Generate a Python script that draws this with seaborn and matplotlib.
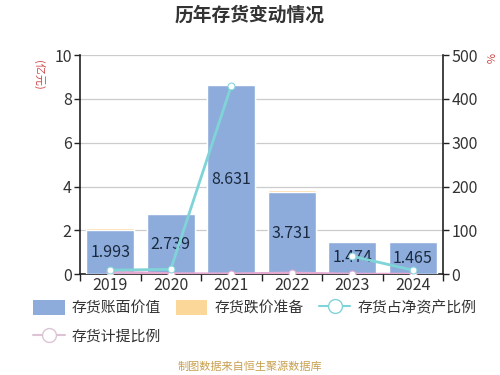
import numpy as np
import pandas as pd
import seaborn as sns
import matplotlib.pyplot as plt
from matplotlib.lines import Line2D
from matplotlib.patches import Patch

# data
years = ['2019', '2020', '2021', '2022', '2023', '2024']
book_value = [1.993, 2.739, 8.631, 3.731, 1.474, 1.465]      # 亿元
reserve = [0.10, 0.03, 0.05, 0.10, 0.0, 0.0]                 # 亿元
ratio_net_assets = [9, 11, 430, np.nan, 41, 9]               # %
ratio_provision = [4.8, 1.1, 0.6, 2.6, 0.0, 0.0]             # %

sns.set_style('white')
plt.rcParams['font.family'] = ['Noto Sans CJK SC', 'DejaVu Sans']

c_blue = '#8eacdb'
c_orange = '#fcd79a'
c_cyan = '#7fd4d8'
c_pink = '#e5a8d0'
txt = '#333333'

df = pd.DataFrame({'year': years, 'book': book_value,
                   'total': np.array(book_value) + np.array(reserve)})

fig = plt.figure(figsize=(5, 3.75), dpi=100)
ax = fig.add_axes([0.16, 0.269, 0.726, 0.584])

sns.barplot(data=df, x='year', y='total', color=c_orange, width=0.8,
            saturation=1, ax=ax, zorder=2)
sns.barplot(data=df, x='year', y='book', color=c_blue, width=0.8,
            saturation=1, ax=ax, zorder=3)
for i, v in enumerate(book_value):
    ax.text(i, v / 2, f'{v:.3f}', ha='center', va='center', fontsize=11.5,
            color='#1a2a40', zorder=4)

ax.set_ylim(0, 10)
ax.set_yticks(range(0, 11, 2))
ax.set_xlim(-0.5, 5.5)
ax.set_xlabel('')
ax.set_ylabel('')
ax.grid(axis='y', color='#cccccc', linewidth=0.9, zorder=0)
ax.set_axisbelow(True)
ax.tick_params(axis='y', length=4, width=1, color='#222222', labelsize=11.5,
               labelcolor=txt, left=True, pad=2)
ax.tick_params(axis='x', which='major', length=0, labelsize=11.5,
               labelcolor=txt, pad=2)
ax.set_xticks(np.arange(-0.5, 6, 1), minor=True)
ax.tick_params(axis='x', which='minor', length=5, width=1, color='#222222',
               bottom=True)
for s in ['top', 'right']:
    ax.spines[s].set_visible(False)
for s in ['left', 'bottom']:
    ax.spines[s].set_color('#222222')
    ax.spines[s].set_linewidth(1.2)

ax2 = ax.twinx()
x_idx = np.arange(len(years))
seg = np.cumsum(np.isnan(ratio_net_assets))
lines = pd.DataFrame({'x': x_idx, 'ratio': ratio_net_assets, 'seg': seg,
                      'prov': ratio_provision}).dropna(subset=['ratio'])
sns.lineplot(data=lines, x='x', y='ratio', units='seg', estimator=None,
             color=c_cyan, linewidth=2, marker='o', markersize=5,
             markerfacecolor='white', markeredgecolor=c_cyan, ax=ax2, zorder=5)
sns.lineplot(x=x_idx, y=ratio_provision, color=c_pink, linewidth=2,
             marker='o', markersize=5, markerfacecolor='white',
             markeredgecolor=c_pink, ax=ax2, zorder=4)
ax2.set_ylim(0, 500)
ax2.set_yticks(range(0, 501, 100))
ax2.set_xlim(-0.5, 5.5)
ax2.set_xlabel('')
ax2.set_ylabel('')
ax2.grid(False)
ax2.tick_params(axis='y', length=4, width=1, color='#222222', labelsize=11.5,
                labelcolor=txt, right=True, pad=2)
for s in ['top', 'left', 'bottom']:
    ax2.spines[s].set_visible(False)
ax2.spines['right'].set_color('#222222')
ax2.spines['right'].set_linewidth(1.2)

fig.text(0.5, 0.96, '历年存货变动情况', ha='center', va='center',
         fontsize=13.5, fontweight='bold', color=txt)
fig.text(0.077, 0.80, '(亿元)', rotation=270, ha='center', va='center',
         fontsize=8, color='#d04848')
fig.text(0.978, 0.845, '%', rotation=270, ha='center', va='center',
         fontsize=8, color='#d04848')

# column-major fill: order so rows read blue, orange, cyan / pink
handles = [
    Patch(facecolor=c_blue, edgecolor='none', label='存货账面价值'),
    Line2D([], [], color='#dcc4d4', linewidth=1.5, marker='o', markersize=10,
           markerfacecolor='white', markeredgecolor='#dcc4d4', label='存货计提比例'),
    Patch(facecolor=c_orange, edgecolor='none', label='存货跌价准备'),
    Line2D([], [], color=c_cyan, linewidth=1.5, marker='o', markersize=10,
           markerfacecolor='white', markeredgecolor=c_cyan, label='存货占净资产比例'),
]
fig.legend(handles=handles, loc='upper left', bbox_to_anchor=(0.055, 0.215),
           ncol=3, frameon=False, fontsize=10.7, handlelength=2.1,
           handleheight=1.1, handletextpad=0.5, columnspacing=1.0,
           labelspacing=0.9, labelcolor=txt, borderaxespad=0)

fig.text(0.5, 0.021, '制图数据来自恒生聚源数据库', ha='center', va='center',
         fontsize=8, color='#c8a050')

fig.savefig('out.png', dpi=100)
